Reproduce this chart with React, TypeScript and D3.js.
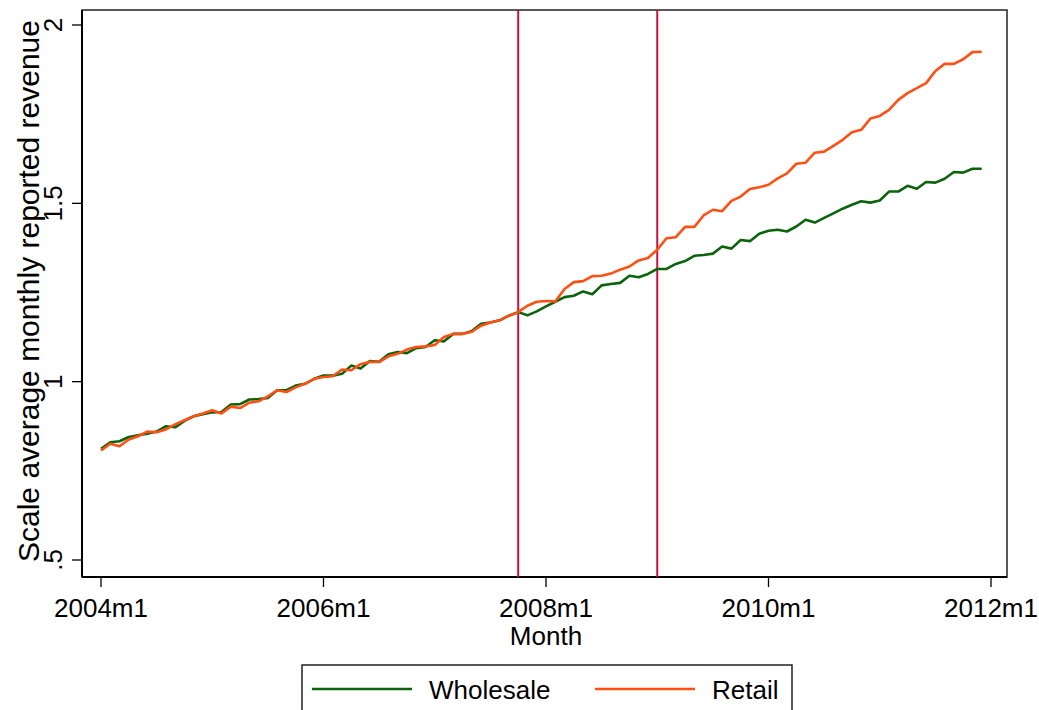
import React from 'react';
import * as d3 from 'd3';

// monthly series, 2004m1 .. 2011m12
const wholesale = [
  0.812, 0.83, 0.833, 0.845, 0.85, 0.854, 0.86, 0.875, 0.872, 0.89, 0.903, 0.909,
  0.914, 0.915, 0.936, 0.937, 0.95, 0.951, 0.954, 0.976, 0.976, 0.989, 0.994, 1.008,
  1.017, 1.017, 1.022, 1.045, 1.037, 1.058, 1.056, 1.077, 1.083, 1.08, 1.094, 1.097,
  1.116, 1.113, 1.134, 1.134, 1.142, 1.162, 1.166, 1.172, 1.185, 1.195, 1.186, 1.197,
  1.211, 1.224, 1.237, 1.241, 1.253, 1.245, 1.27, 1.274, 1.277, 1.297, 1.293, 1.302,
  1.316, 1.316, 1.33, 1.338, 1.353, 1.355, 1.359, 1.379, 1.373, 1.397, 1.394, 1.415,
  1.423, 1.426, 1.421, 1.435, 1.454, 1.446, 1.459, 1.472, 1.485, 1.496, 1.506, 1.502,
  1.508, 1.533, 1.533, 1.549, 1.541, 1.56, 1.558, 1.569, 1.588, 1.586, 1.597, 1.597,
];

const retail = [
  0.807, 0.826, 0.819, 0.838, 0.847, 0.86, 0.858, 0.866, 0.88, 0.892, 0.903, 0.911,
  0.92, 0.911, 0.93, 0.926, 0.941, 0.945, 0.959, 0.976, 0.971, 0.984, 0.994, 1.008,
  1.013, 1.015, 1.034, 1.032, 1.049, 1.056, 1.055, 1.071, 1.078, 1.09, 1.097, 1.099,
  1.103, 1.125, 1.134, 1.134, 1.14, 1.157, 1.166, 1.172, 1.185, 1.195, 1.213, 1.224,
  1.226, 1.225, 1.26, 1.279, 1.282, 1.296, 1.297, 1.303, 1.314, 1.323, 1.34, 1.347,
  1.37, 1.402, 1.405, 1.434, 1.434, 1.466, 1.482, 1.478, 1.507, 1.519, 1.54, 1.545,
  1.552, 1.57, 1.584, 1.611, 1.614, 1.642, 1.645, 1.661, 1.678, 1.699, 1.706, 1.738,
  1.745, 1.762, 1.79, 1.809, 1.823, 1.837, 1.871, 1.891, 1.891, 1.904, 1.924, 1.925,
];

// x ticks (month index from 2004m1)
const xTicks = [0, 24, 48, 72, 96];
const xTickLabels = ['2004m1', '2006m1', '2008m1', '2010m1', '2012m1'];
const yTicks = [0.5, 1, 1.5, 2];
const yTickLabels = ['.5', '1', '1.5', '2'];
// reference lines: 2007m10 and 2009m1
const refLines = [45, 60];

const GREEN = '#0b640b';
const ORANGE = '#ff5014';
const RED = '#c8103c';
const FONT = 'Arial, "Liberation Sans", Helvetica, sans-serif';

const plot = { left: 82, right: 1007, top: 10, bottom: 577 };

const App: React.FC = () => {
  const x = d3.scaleLinear().domain([0, 96]).range([101, 991]);
  const y = d3.scaleLinear().domain([0.5, 2]).range([560, 25]);

  const line = d3.line<number>()
    .x((_, i) => x(i))
    .y(d => y(d));

  return (
    <div style={{ position: 'absolute', left: 0, top: 0 }}>
      <svg width={1039} height={710} style={{ display: 'block', background: '#fff' }}>
        {/* plot frame */}
        <rect x={plot.left} y={plot.top} width={plot.right - plot.left} height={plot.bottom - plot.top}
          fill="none" stroke="#222" strokeWidth={1.5} />
        <line x1={plot.left} x2={plot.left} y1={plot.top} y2={plot.bottom} stroke="#000" strokeWidth={2} />
        <line x1={plot.left} x2={plot.right} y1={plot.bottom} y2={plot.bottom} stroke="#000" strokeWidth={2} />

        {refLines.map(m => (
          <line key={m} x1={x(m)} x2={x(m)} y1={plot.top} y2={plot.bottom} stroke={RED} strokeWidth={2} />
        ))}

        <path d={line(wholesale) ?? ''} fill="none" stroke={GREEN} strokeWidth={2.6} strokeLinejoin="round" />
        <path d={line(retail) ?? ''} fill="none" stroke={ORANGE} strokeWidth={2.6} strokeLinejoin="round" />

        {/* y axis */}
        {yTicks.map((t, i) => (
          <g key={t}>
            <line x1={plot.left - 10} x2={plot.left} y1={y(t)} y2={y(t)} stroke="#000" strokeWidth={1.3} />
            <text transform={`translate(62,${y(t)}) rotate(-90)`} textAnchor="middle"
              fontFamily={FONT} fontSize={26} fill="#000">{yTickLabels[i]}</text>
          </g>
        ))}
        <text transform={`translate(39,291) rotate(-90)`} textAnchor="middle"
          fontFamily={FONT} fontSize={30} fill="#000">Scale average monthly reported revenue</text>

        {/* x axis */}
        {xTicks.map((t, i) => (
          <g key={t}>
            <line x1={x(t)} x2={x(t)} y1={plot.bottom} y2={plot.bottom + 10} stroke="#000" strokeWidth={1.3} />
            <text x={x(t)} y={617} textAnchor="middle" fontFamily={FONT} fontSize={26} fill="#000">
              {xTickLabels[i]}
            </text>
          </g>
        ))}
        <text x={546} y={645} textAnchor="middle" fontFamily={FONT} fontSize={26} fill="#000">Month</text>

        {/* legend */}
        <rect x={302} y={665} width={490} height={60} fill="#fff" stroke="#222" strokeWidth={1.5} />
        <line x1={312} x2={412} y1={689} y2={689} stroke={GREEN} strokeWidth={2.6} />
        <text x={429} y={699} fontFamily={FONT} fontSize={26} fill="#000">Wholesale</text>
        <line x1={595} x2={695} y1={689} y2={689} stroke={ORANGE} strokeWidth={2.6} />
        <text x={712} y={699} fontFamily={FONT} fontSize={26} fill="#000">Retail</text>
      </svg>
    </div>
  );
};

export default App;
